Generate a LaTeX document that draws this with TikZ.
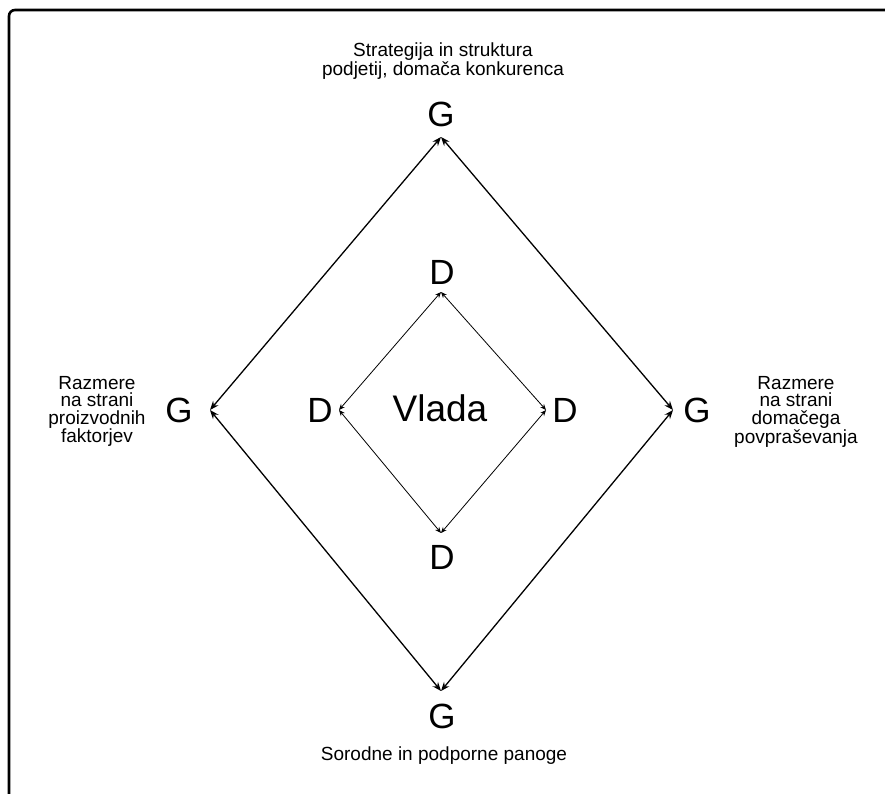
\documentclass[tikz,border=0pt]{standalone}
\usepackage{fontspec}
\setmainfont{Liberation Sans}
\usetikzlibrary{arrows.meta}
\begin{document}
\begin{tikzpicture}[x=1pt,y=-1pt,
  letter/.style={font=\fontsize{35}{36}\selectfont, inner sep=0pt},
  caption/.style={font=\fontsize{19}{17.5}\selectfont, align=center, inner sep=0pt},
  outerlink/.style={line width=1.3pt, {Stealth[length=9pt,width=7pt,inset=3pt]}-{Stealth[length=9pt,width=7pt,inset=3pt]}},
  innerlink/.style={line width=0.8pt, {Stealth[length=6pt,width=5pt,inset=2pt]}-{Stealth[length=6pt,width=5pt,inset=2pt]}}]
\useasboundingbox (0,0) rectangle (885,794);
% frame
\draw[line width=2.6pt, rounded corners=6pt] (9,794) -- (9,10) -- (886,10);

% outer diamond corners
\coordinate (ot) at (441,137);
\coordinate (ol) at (210,410);
\coordinate (or) at (673,410);
\coordinate (ob) at (441,691);
% inner diamond corners
\coordinate (it) at (441,292);
\coordinate (il) at (339,410);
\coordinate (ir) at (546,410);
\coordinate (ib) at (441,533);

\draw[outerlink] (ot) -- (ol);
\draw[outerlink] (ot) -- (or);
\draw[outerlink] (ob) -- (ol);
\draw[outerlink] (ob) -- (or);

\draw[innerlink] (it) -- (il);
\draw[innerlink] (it) -- (ir);
\draw[innerlink] (ib) -- (il);
\draw[innerlink] (ib) -- (ir);

% letters
\node[letter] (gt) at (441,114) {G};
\node[letter] (gl) at (179,410) {G};
\node[letter] (gr) at (697,410) {G};
\node[letter] (gb) at (442,716) {G};
\node[letter] (dt) at (442,272) {D};
\node[letter] (dl) at (320,410) {D};
\node[letter] (dr) at (565,410) {D};
\node[letter] (db) at (442,557) {D};
\node[font=\fontsize{37}{38}\selectfont, inner sep=0pt] (vlada) at (440,408) {Vlada};

% captions
\node[caption, anchor=north] (ct) at (443,43) {Strategija in struktura\\podjetij, domača konkurenca};
\node[caption, anchor=north] (cl) at (97,376) {Razmere\\na strani\\proizvodnih\\faktorjev};
\node[caption, anchor=north] (cr) at (796,376) {Razmere\\na strani\\domačega\\povpraševanja};
\node[caption, anchor=base] (cb) at (444,760) {Sorodne in podporne panoge};
\end{tikzpicture}
\end{document}
